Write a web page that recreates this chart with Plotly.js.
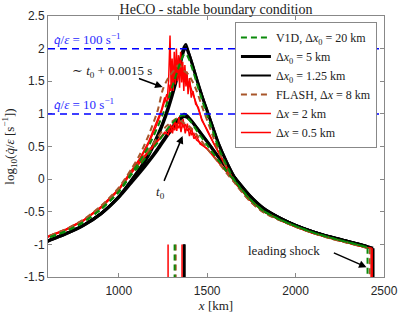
<!DOCTYPE html>
<html>
<head>
<meta charset="utf-8">
<script src="https://cdn.plot.ly/plotly-3.0.1.min.js"></script>
<style>html,body{margin:0;padding:0;background:#fff;}</style>
</head>
<body>
<div id="chart" style="width:399px;height:316px;"></div>
<script>
// ---------- data ----------
var seriesNames = [
  'V1D, Δ<i>x</i><sub>0</sub> = 20 km',
  'Δ<i>x</i><sub>0</sub> = 5 km',
  'Δ<i>x</i><sub>0</sub> = 1.25 km',
  'FLASH, Δ<i>x</i> = 8 km',
  'Δ<i>x</i> = 2 km',
  'Δ<i>x</i> = 0.5 km'
];

// smooth profiles (V1D + FLASH 8 km), time t0
var xSmooth0 = [560, 600, 700, 800, 900, 1000, 1070, 1120, 1170, 1220, 1265, 1300, 1330, 1350, 1367, 1385, 1410, 1447, 1500, 1560, 1610, 1660, 1740, 1820, 1920, 2000, 2100, 2200, 2300, 2400];
var v1d20_t0  = [-0.94, -0.90, -0.80, -0.66, -0.46, -0.20, 0.06, 0.22, 0.39, 0.56, 0.73, 0.85, 0.93, 0.97, 0.98, 0.95, 0.87, 0.72, 0.52, 0.30, 0.12, -0.04, -0.30, -0.49, -0.63, -0.72, -0.82, -0.90, -0.97, -1.04];
var v1d5_t0   = [-1.00, -0.95, -0.84, -0.71, -0.53, -0.28, -0.06, 0.10, 0.27, 0.45, 0.63, 0.76, 0.86, 0.92, 0.96, 0.95, 0.89, 0.76, 0.57, 0.35, 0.17, 0.01, -0.25, -0.45, -0.61, -0.71, -0.81, -0.89, -0.96, -1.03];
var v1d125_t0 = [-0.99, -0.94, -0.83, -0.70, -0.52, -0.27, -0.04, 0.12, 0.29, 0.48, 0.66, 0.80, 0.90, 0.96, 1.00, 0.98, 0.91, 0.78, 0.59, 0.37, 0.19, 0.02, -0.24, -0.44, -0.60, -0.70, -0.80, -0.88, -0.95, -1.02];
var flash8_t0 = [-0.93, -0.88, -0.77, -0.63, -0.42, -0.15, 0.11, 0.28, 0.45, 0.64, 0.80, 0.88, 0.93, 0.90, 0.86, 0.84, 0.78, 0.66, 0.47, 0.27, 0.09, -0.07, -0.33, -0.51, -0.64, -0.73, -0.83, -0.91, -0.98, -1.05];

// smooth profiles, time t0 + 0.0015 s
var xSmooth1 = [560, 600, 700, 800, 900, 1000, 1070, 1120, 1170, 1220, 1250, 1280, 1310, 1335, 1355, 1370, 1380, 1395, 1420, 1441, 1470, 1503, 1535, 1566, 1610, 1660, 1740, 1820, 1920, 2000, 2100, 2200, 2300, 2400];
var v1d20_t1  = [-0.94, -0.90, -0.80, -0.66, -0.46, -0.19, 0.08, 0.28, 0.51, 0.80, 1.00, 1.22, 1.48, 1.68, 1.84, 1.91, 1.92, 1.85, 1.66, 1.47, 1.22, 0.96, 0.71, 0.47, 0.21, -0.04, -0.30, -0.49, -0.63, -0.72, -0.82, -0.90, -0.97, -1.04];
var v1d5_t1   = [-1.00, -0.95, -0.84, -0.71, -0.53, -0.27, -0.03, 0.15, 0.37, 0.65, 0.85, 1.08, 1.35, 1.60, 1.84, 1.98, 2.02, 1.93, 1.72, 1.53, 1.28, 1.02, 0.77, 0.53, 0.26, 0.00, -0.27, -0.46, -0.61, -0.71, -0.81, -0.89, -0.96, -1.03];
var v1d125_t1 = [-0.99, -0.94, -0.83, -0.70, -0.52, -0.26, -0.01, 0.18, 0.40, 0.69, 0.89, 1.13, 1.42, 1.70, 1.93, 2.04, 2.07, 1.96, 1.75, 1.55, 1.30, 1.04, 0.79, 0.55, 0.28, 0.02, -0.26, -0.45, -0.60, -0.70, -0.80, -0.88, -0.95, -1.02];
var flash8_t1 = [-0.93, -0.88, -0.77, -0.62, -0.41, -0.13, 0.15, 0.38, 0.68, 1.05, 1.38, 1.55, 1.66, 1.74, 1.72, 1.66, 1.64, 1.60, 1.48, 1.35, 1.12, 0.88, 0.64, 0.42, 0.18, -0.07, -0.33, -0.51, -0.64, -0.73, -0.83, -0.91, -0.98, -1.05];

// noisy FLASH profiles (2 km and 0.5 km), time t0
var xNoisy0 = [560, 600, 700, 800, 900, 1000, 1070, 1120, 1170, 1220, 1260, 1280, 1292, 1304, 1316, 1328, 1340, 1352, 1364, 1376, 1388, 1400, 1412, 1425, 1440, 1460, 1500, 1560, 1610, 1660, 1740, 1820, 1920, 2000, 2100, 2200, 2300, 2400];
var flash2_t0  = [-0.93, -0.89, -0.78, -0.64, -0.44, -0.17, 0.09, 0.25, 0.42, 0.58, 0.70, 0.76, 0.72, 0.82, 0.75, 0.86, 0.78, 0.88, 0.80, 0.84, 0.74, 0.78, 0.68, 0.70, 0.60, 0.56, 0.46, 0.27, 0.10, -0.06, -0.31, -0.50, -0.64, -0.73, -0.83, -0.91, -0.98, -1.05];
var flash05_t0 = [-0.92, -0.88, -0.77, -0.63, -0.43, -0.16, 0.10, 0.27, 0.44, 0.60, 0.72, 0.68, 0.84, 0.70, 0.90, 0.74, 0.95, 0.72, 0.92, 0.70, 0.85, 0.66, 0.78, 0.62, 0.66, 0.54, 0.47, 0.28, 0.11, -0.05, -0.31, -0.50, -0.64, -0.73, -0.83, -0.91, -0.98, -1.05];

// noisy FLASH profiles, time t0 + 0.0015 s
var xNoisy1 = [560, 600, 700, 800, 900, 1000, 1070, 1120, 1170, 1210, 1240, 1260, 1272, 1282, 1290, 1296, 1302, 1308, 1314, 1320, 1326, 1332, 1338, 1344, 1350, 1356, 1362, 1368, 1374, 1380, 1386, 1392, 1400, 1410, 1420, 1435, 1450, 1470, 1500, 1535, 1566, 1610, 1660, 1740, 1820, 1920, 2000, 2100, 2200, 2300, 2400];
var flash2_t1  = [-0.93, -0.89, -0.78, -0.64, -0.43, -0.16, 0.10, 0.30, 0.55, 0.80, 1.02, 1.18, 1.30, 1.22, 1.45, 1.35, 1.62, 1.48, 1.70, 1.52, 1.80, 1.58, 1.85, 1.60, 1.78, 1.55, 1.72, 1.50, 1.68, 1.46, 1.60, 1.40, 1.50, 1.38, 1.30, 1.18, 1.06, 0.92, 0.74, 0.55, 0.40, 0.17, -0.07, -0.32, -0.50, -0.64, -0.73, -0.83, -0.91, -0.98, -1.05];
var flash05_t1 = [-0.92, -0.88, -0.77, -0.63, -0.42, -0.15, 0.12, 0.32, 0.58, 0.84, 1.05, 1.25, 1.15, 1.50, 2.20, 1.40, 1.85, 1.35, 1.95, 1.45, 2.00, 1.50, 1.90, 1.40, 1.95, 1.48, 1.80, 1.35, 1.75, 1.42, 1.65, 1.30, 1.55, 1.25, 1.35, 1.15, 1.10, 0.90, 0.76, 0.56, 0.41, 0.18, -0.06, -0.31, -0.50, -0.64, -0.73, -0.83, -0.91, -0.98, -1.05];

// leading shock position and pre-shock value, per series (legend order)
var shockX   = [2407, 2438, 2437, 2420, 2427, 2433];
var shockTop = [-1.05, -1.06, -1.06, -1.06, -1.06, -1.06];
// inner markers near the bottom, per series (legend order)
var innerX   = [1316, 1370, 1370, 1322, 1279, 1358];
var innerTop = -1.0;
var axisBottom = -1.6;

// reference levels log10(q/eps) = 1 and 2
var refLevels = [2, 1];
var refLabels = ['<i>q̇</i>/<i>ε</i> = 100 s<sup>−1</sup>', '<i>q̇</i>/<i>ε</i> = 10 s<sup>−1</sup>'];

var xTicks = [1000, 1500, 2000, 2500];
var yTicks = [-1.5, -1, -0.5, 0, 0.5, 1, 1.5, 2, 2.5];
var yTickText = ['-1.5', '-1', '-0.5', '0', '0.5', '1', '1.5', '2', '2.5'];

// ---------- build ----------
var profiles = [
  [xSmooth0, v1d20_t0, xSmooth1, v1d20_t1],
  [xSmooth0, v1d5_t0, xSmooth1, v1d5_t1],
  [xSmooth0, v1d125_t0, xSmooth1, v1d125_t1],
  [xSmooth0, flash8_t0, xSmooth1, flash8_t1],
  [xNoisy0, flash2_t0, xNoisy1, flash2_t1],
  [xNoisy0, flash05_t0, xNoisy1, flash05_t1]
];
var styles = [
  {color: '#0a8a0a', width: 2, dash: '6px,4px', shape: 'spline', smoothing: 0.8},
  {color: '#000000', width: 3, dash: 'solid', shape: 'spline', smoothing: 0.8},
  {color: '#000000', width: 2, dash: 'solid', shape: 'spline', smoothing: 0.8},
  {color: '#a8562a', width: 2, dash: '6px,4px', shape: 'spline', smoothing: 0.8},
  {color: '#ff0000', width: 1.5, dash: 'solid', shape: 'linear'},
  {color: '#ff0000', width: 1.5, dash: 'solid', shape: 'linear'}
];
var drawOrder = [1, 2, 4, 5, 3, 0];

var traces = drawOrder.map(function (i) {
  var p = profiles[i];
  var x = p[0].concat([null], p[2], [shockX[i], null, shockX[i], shockX[i], null, innerX[i], innerX[i]]);
  var y = p[1].concat([null], p[3], [shockTop[i], null, shockTop[i], axisBottom, null, innerTop, axisBottom]);
  return {
    type: 'scatter', mode: 'lines', x: x, y: y,
    name: seriesNames[i], legendrank: i + 1,
    line: styles[i], hoverinfo: 'skip'
  };
});

var serif = 'Liberation Serif, DejaVu Serif, serif';
var shapes = refLevels.map(function (v) {
  return {type: 'line', xref: 'paper', x0: 0, x1: 1, yref: 'y', y0: v, y1: v,
          line: {color: '#0000ff', width: 1.5, dash: '7px,5px'}, layer: 'above'};
});
var annotations = refLevels.map(function (v, k) {
  return {xref: 'paper', x: 0.012, xanchor: 'left', yref: 'y', y: v, yanchor: 'bottom', yshift: 0,
          text: refLabels[k], showarrow: false, font: {family: serif, size: 13, color: '#2a2aff'}};
});
annotations.push(
  {x: 964, y: 1.65, text: '∼ <i>t</i><sub>0</sub> + 0.0015 s', showarrow: false, font: {family: serif, size: 13, color: '#222'}},
  {x: 1248, y: 1.41, ax: 1106, ay: 1.55, axref: 'x', ayref: 'y', text: '', showarrow: true, arrowhead: 2, arrowsize: 1, arrowwidth: 1.5, arrowcolor: '#000'},
  {x: 1236, y: -0.2, text: '<i>t</i><sub>0</sub>', showarrow: false, font: {family: serif, size: 13, color: '#222'}},
  {x: 1361, y: 0.66, ax: 1253, ay: -0.05, axref: 'x', ayref: 'y', text: '', showarrow: true, arrowhead: 2, arrowsize: 1, arrowwidth: 1.5, arrowcolor: '#000'},
  {x: 1935, y: -1.09, text: 'leading shock', showarrow: false, font: {family: serif, size: 13, color: '#222'}},
  {x: 2401, y: -1.35, ax: 2208, ay: -1.12, axref: 'x', ayref: 'y', text: '', showarrow: true, arrowhead: 2, arrowsize: 1, arrowwidth: 1.5, arrowcolor: '#000'}
);

var layout = {
  width: 399, height: 316,
  margin: {l: 48, r: 15, t: 16, b: 39},
  paper_bgcolor: '#ffffff', plot_bgcolor: '#ffffff',
  showlegend: true,
  title: {text: 'HeCO - stable boundary condition', font: {family: serif, size: 14, color: '#222'},
          xref: 'paper', x: 0.5, xanchor: 'center', yref: 'container', y: 0.972, yanchor: 'middle'},
  xaxis: {
    range: [600, 2500], tickvals: xTicks, ticktext: xTicks.map(String),
    ticks: 'inside', ticklen: 4, tickcolor: '#888', showline: true, linecolor: '#888', linewidth: 1,
    mirror: 'ticks', showgrid: false, zeroline: false,
    tickfont: {family: 'Liberation Sans, Arial, sans-serif', size: 12, color: '#262626'},
    ticklabelstandoff: 3,
    title: {text: '<i>x</i> [km]', font: {family: serif, size: 13, color: '#222'}, standoff: 3}
  },
  yaxis: {
    range: [-1.5, 2.5], tickvals: yTicks, ticktext: yTickText,
    ticks: 'inside', ticklen: 4, tickcolor: '#888', showline: true, linecolor: '#888', linewidth: 1,
    mirror: 'ticks', showgrid: false, zeroline: false,
    tickfont: {family: 'Liberation Sans, Arial, sans-serif', size: 12, color: '#262626'},
    title: {text: 'log<sub>10</sub>(<i>q̇</i>/<i>ε</i> [s<sup>−1</sup>])', font: {family: serif, size: 13, color: '#222'}, standoff: 6}
  },
  legend: {
    x: 0.979, xanchor: 'right', y: 0.977, yanchor: 'top',
    bgcolor: '#ffffff', bordercolor: '#888', borderwidth: 1,
    font: {family: serif, size: 12, color: '#222'},
    itemwidth: 30, tracegroupgap: 0
  },
  shapes: shapes,
  annotations: annotations
};

Plotly.newPlot('chart', traces, layout, {displayModeBar: false, staticPlot: true});
</script>
</body>
</html>
